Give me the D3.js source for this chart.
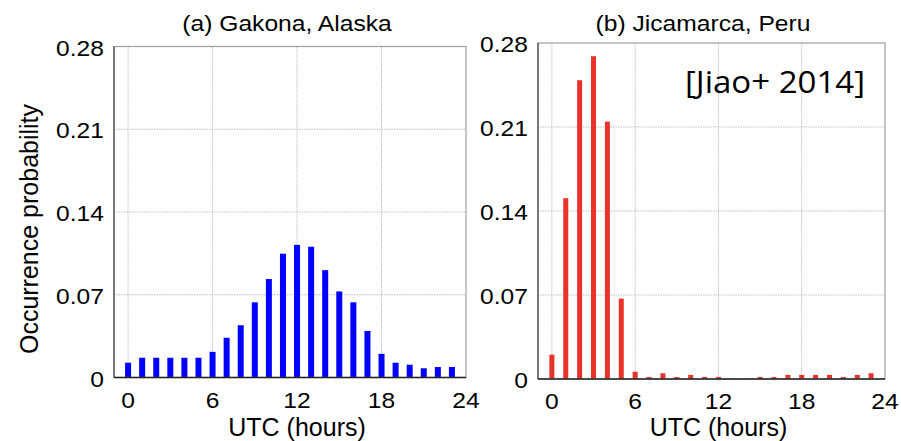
<!DOCTYPE html>
<html>
<head>
<meta charset="utf-8">
<script src="https://cdn.jsdelivr.net/npm/d3@7"></script>
<style>
  body { margin: 0; background: #fff; }
  svg { display: block; font-family: "Liberation Sans", Arial, Helvetica, sans-serif; }
  .grid line { stroke: #b0b0b0; stroke-width: 0.8; stroke-dasharray: 1.5 1; }
  .tick-label { font-size: 22px; fill: #000; }
</style>
</head>
<body>
<div id="chart"></div>
<script>
// hours 0..23 (UTC)
const hours = d3.range(0, 24);

// (a) Gakona, Alaska
const gakona = [
  0.0125, 0.0167, 0.0167, 0.0167, 0.0167, 0.0167, 0.0217, 0.0336,
  0.0442, 0.0636, 0.0833, 0.1047, 0.1122, 0.1106, 0.0908, 0.0728,
  0.0636, 0.0394, 0.0200, 0.0125, 0.0108, 0.0078, 0.0089, 0.0089
];

// (b) Jicamarca, Peru
const jicamarca = [
  0.0203, 0.1507, 0.2490, 0.2690, 0.2145, 0.0670, 0.0060, 0.0017,
  0.0048, 0.0017, 0.0034, 0.0017, 0.0017, 0.0004, 0.0004, 0.0017,
  0.0017, 0.0034, 0.0034, 0.0034, 0.0034, 0.0017, 0.0034, 0.0048
];

const yTicks = [0, 0.07, 0.14, 0.21, 0.28];
const yTickLabels = ['0', '0.07', '0.14', '0.21', '0.28'];
const xTicks = [0, 6, 12, 18, 24];
const gridX = [0, 6, 12, 18];
const gridY = [0.07, 0.14, 0.21];

const width = 901, height = 441;
const stretch = 1.12; // text in the figure is a bit wide

const svg = d3.select('#chart')
  .append('svg')
  .attr('width', width)
  .attr('height', height);

// text placed at (x,y) and widened horizontally
function wideText(sel, x, y, str, size, anchor, sx) {
  return sel.append('text')
    .attr('transform', `translate(${x},${y}) scale(${sx || stretch},1)`)
    .attr('text-anchor', anchor || 'middle')
    .style('font-size', size + 'px')
    .text(str);
}

const panels = [
  { title: '(a) Gakona, Alaska', data: gakona, color: '#0000ff', barW: 6,
    left: 114, right: 466, top: 46.5, bottom: 377.5, titleX: 287 },
  { title: '(b) Jicamarca, Peru', data: jicamarca, color: '#e8332a', barW: 5,
    left: 538, right: 885, top: 43, bottom: 379, titleX: 703 }
];

panels.forEach(p => {
  const x = d3.scaleLinear().domain([-1, 24]).range([p.left, p.right]);
  const y = d3.scaleLinear().domain([0, 0.28]).range([p.bottom, p.top]);
  const g = svg.append('g');

  // grid
  const grid = g.append('g').attr('class', 'grid');
  grid.selectAll('.gx').data(gridX).enter().append('line')
    .attr('x1', d => x(d)).attr('x2', d => x(d))
    .attr('y1', p.top).attr('y2', p.bottom);
  grid.selectAll('.gy').data(gridY).enter().append('line')
    .attr('x1', p.left).attr('x2', p.right)
    .attr('y1', d => y(d)).attr('y2', d => y(d));

  // bars
  g.selectAll('.bar').data(hours).enter().append('rect')
    .attr('x', d => x(d) - p.barW / 2)
    .attr('y', d => y(p.data[d]))
    .attr('width', p.barW)
    .attr('height', d => y(0) - y(p.data[d]))
    .attr('fill', p.color);

  // frame
  g.append('rect')
    .attr('x', p.left).attr('y', p.top)
    .attr('width', p.right - p.left).attr('height', p.bottom - p.top)
    .attr('fill', 'none').attr('stroke', '#a0a0a0').attr('stroke-width', 1.2);
  g.append('line')
    .attr('x1', p.left).attr('x2', p.left).attr('y1', p.top).attr('y2', p.bottom)
    .attr('stroke', '#444').attr('stroke-width', 1.2);
  g.append('line')
    .attr('x1', p.left).attr('x2', p.right).attr('y1', p.bottom).attr('y2', p.bottom)
    .attr('stroke', '#222').attr('stroke-width', 1.5);

  // y tick labels
  yTicks.forEach((d, i) => {
    wideText(g, p.left - 10, y(d) + 9, yTickLabels[i], 22, 'end');
  });

  // x tick labels
  xTicks.forEach(d => {
    wideText(g, x(d), p.bottom + 30, d, 22, 'middle');
  });

  // x axis title
  wideText(g, (x(0) + x(24)) / 2, 436, 'UTC (hours)', 25, 'middle', 1);

  // panel title
  wideText(g, p.titleX, 31, p.title, 22, 'middle');
});

// y axis title
svg.append('text')
  .attr('transform', 'translate(38,229) rotate(-90)')
  .attr('text-anchor', 'middle')
  .style('font-size', '25px')
  .text('Occurrence probability');

// citation
svg.append('text')
  .attr('x', 685)
  .attr('y', 93)
  .attr('textLength', 180)
  .attr('lengthAdjust', 'spacingAndGlyphs')
  .style('font-family', '"Open Sans", "Noto Sans", sans-serif')
  .style('font-size', '31px')
  .text('[Jiao+ 2014]');
</script>
</body>
</html>
